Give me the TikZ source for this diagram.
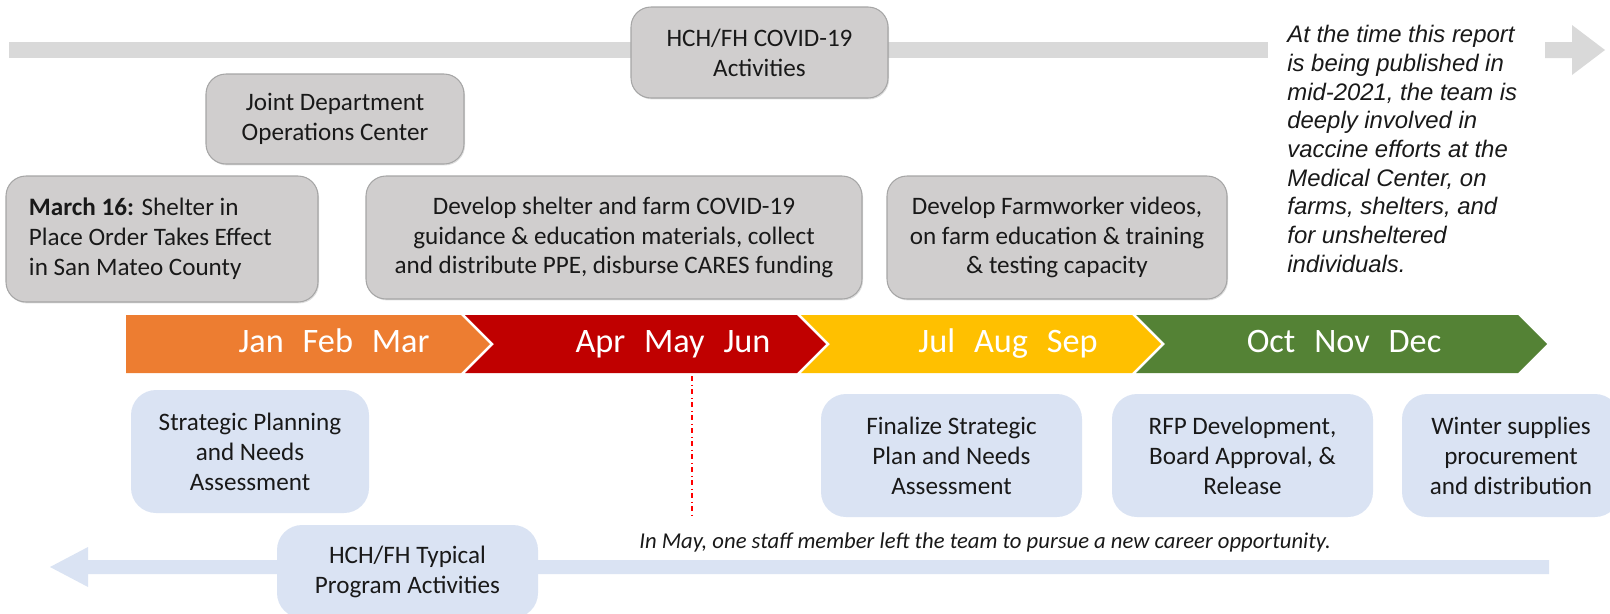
\documentclass[tikz,border=0pt]{standalone}
\usepackage{fontspec}
\setmainfont{Carlito}
\newfontfamily\arialfont{Liberation Sans}
\usepackage{xcolor}
\usetikzlibrary{positioning,%
  arrows.meta,%
  shadows,%
  calc
}

\definecolor{boxgray}{HTML}{D0CECE}
\definecolor{edgegray}{HTML}{A6A6A6}
\definecolor{bargray}{HTML}{D9D9D9}
\definecolor{paleblue}{HTML}{DAE3F3}
\definecolor{qone}{HTML}{ED7D31}
\definecolor{qtwo}{HTML}{C00000}
\definecolor{qthree}{HTML}{FFC000}
\definecolor{qfour}{HTML}{548235}
\newcommand{\px}{0.02cm}

\begin{document}
\begin{tikzpicture}
                    [
                        x=0.02cm, y=-0.02cm,
                        every node/.style={font=\fontsize{14.3}{17}\selectfont, text=black!90, inner sep=0pt},
                        covidbox/.style={draw=edgegray, fill=boxgray, line width=0.6pt, rounded corners=0.4cm, align=center,
                            drop shadow={opacity=0.25, shadow xshift=0.6pt, shadow yshift=-0.8pt}},
                        typbox/.style={fill=paleblue, rounded corners=0.5cm, align=center},
                        months/.style={font=\fontsize{19.5}{22}\selectfont, text=white, anchor=base},
                        note/.style={font=\fontsize{12.9}{15}\selectfont\itshape, anchor=west}
                    ]
                    \useasboundingbox (0,0) rectangle (1610,613);

                    % Zeitachsen
                    \fill[bargray] (9,42) rectangle (1268,58);
                    \fill[bargray] (1545,42) -- (1572,42) -- (1572,25) -- (1605,50) -- (1572,75) -- (1572,58) -- (1545,58) -- cycle;
                    \fill[paleblue] (1549,560) -- (88,560) -- (88,547) -- (50,567) -- (88,587) -- (88,574) -- (1549,574) -- cycle;

                    % Quartale
                    \fill[qone] (126,315) -- (461,315) -- (490,344) -- (461,373) -- (126,373) -- cycle;
                    \foreach \xl/\xr/\col in {465/797/qtwo, 801/1132/qthree, 1136/1518/qfour}
                        \fill[\col] (\xl,315) -- (\xr,315) -- ++(29,29) -- (\xr,373) -- (\xl,373) -- ++(29,-29) -- cycle;

                    \node[months] (qa) at (334,352) {Jan\hspace{0.55em}Feb\hspace{0.55em}Mar};
                    \node[months] (qb) at (673,352) {Apr\hspace{0.55em}May\hspace{0.55em}Jun};
                    \node[months] (qc) at (1008,352) {Jul\hspace{0.55em}Aug\hspace{0.55em}Sep};
                    \node[months] (qd) at (1344,352) {Oct\hspace{0.55em}Nov\hspace{0.55em}Dec};

                    % COVID-19
                    \node[covidbox, minimum width=257*\px, minimum height=91*\px] (covid) at (759.5,52.5) {HCH/FH COVID-19\\Activities};
                    \node[covidbox, minimum width=258*\px, minimum height=90*\px] (jdoc) at (335,119) {Joint Department\\Operations Center};
                    \node[covidbox, text width=266*\px, inner xsep=23*\px, minimum height=126*\px, align=flush left] (sip) at (162,239) {\textbf{March 16:} Shelter in\\Place Order Takes Effect\\in San Mateo County};
                    \node[covidbox, minimum width=496*\px, minimum height=123*\px] (ppe) at (614,237.5) {Develop shelter and farm COVID-19\\guidance \& education materials, collect\\and distribute PPE, disburse CARES funding};
                    \node[covidbox, minimum width=340*\px, minimum height=123*\px] (farm) at (1057,237.5) {Develop Farmworker videos,\\on farm education \& training\\\& testing capacity};
                    \node[anchor=west, align=left, font=\arialfont\fontsize{13.6}{16.3}\selectfont\itshape] (vaccine) at (1287,149) {At the time this report\\is being published in\\mid-2021, the team is\\deeply involved in\\vaccine efforts at the\\Medical Center, on\\farms, shelters, and\\for unsheltered\\individuals.};

                    % typische Programmaktivitaeten
                    \node[typbox, minimum width=238*\px, minimum height=123*\px] (plan) at (250,451.5) {Strategic Planning\\and Needs\\Assessment};
                    \node[typbox, minimum width=261*\px, minimum height=123*\px] (final) at (951.5,455.5) {Finalize Strategic\\Plan and Needs\\Assessment};
                    \node[typbox, minimum width=261*\px, minimum height=123*\px] (rfp) at (1242.5,455.5) {RFP Development,\\Board Approval, \&\\Release};
                    \node[typbox, minimum width=218*\px, minimum height=123*\px] (winter) at (1511,455.5) {Winter supplies\\procurement\\and distribution};
                    \node[typbox, minimum width=261*\px, minimum height=93*\px] (typical) at (407.5,571.5) {HCH/FH Typical\\Program Activities};

                    \coordinate (maytop) at (692,376);
                    \coordinate (maybot) at (692,515);
                    \draw[red, dash dot, line width=0.8pt] (maytop) -- (maybot);
                    \node[note] (staff) at (639,542) {In May, one staff member left the team to pursue a new career opportunity.};
                \end{tikzpicture}
\end{document}
